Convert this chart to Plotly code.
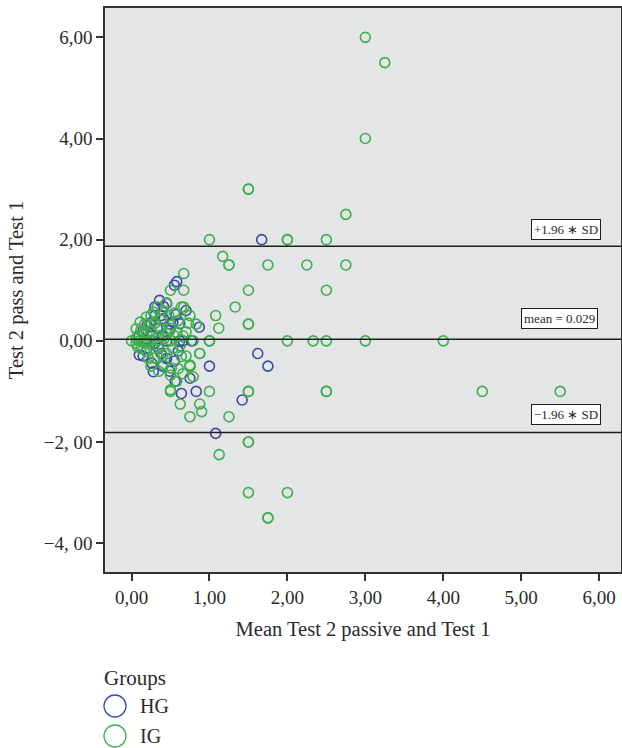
import plotly.graph_objects as go

# ---- data ----
hg_x = [1.67, 0.58, 0.55, 0.36, 0.45, 0.41, 0.30, 0.70, 0.41, 0.38, 0.53, 0.62, 0.49, 0.87, 0.49,
        0.30, 0.25, 0.20, 0.15, 0.33, 0.10, 0.27, 0.40, 0.62, 0.66, 0.77, 0.45, 0.20, 0.30, 0.10,
        0.38, 0.26, 0.28, 0.49, 0.56, 0.75, 0.64, 0.83, 1.00, 0.40, 0.15, 0.20, 0.45, 0.55, 0.35,
        0.60, 1.62, 1.75, 1.42, 1.08, 0.57]
hg_y = [2.00, 1.17, 1.10, 0.80, 0.74, 0.68, 0.67, 0.60, 0.44, 0.50, 0.37, 0.34, 0.33, 0.27, 0.21,
        0.50, 0.35, 0.30, 0.20, 0.25, 0.10, 0.10, 0.10, 0.00, 0.00, 0.00, 0.00, 0.00, -0.05, -0.28,
        -0.25, -0.44, -0.61, -0.60, -0.80, -0.74, -1.04, -1.00, -0.50, -0.50, -0.30, -0.15, -0.35, -0.40, -0.15,
        -0.20, -0.25, -0.50, -1.17, -1.83, 0.52]

ig_x = [3.00, 3.25, 3.00, 1.50, 1.50, 2.75, 1.00, 2.00, 2.00, 2.50, 1.17, 1.25, 1.25, 1.75, 2.25,
        2.75, 0.67, 0.50, 0.67, 1.50, 2.50, 0.67, 0.64, 0.75, 0.83, 1.08, 1.12, 1.33, 1.50, 1.50,
        1.00, 1.00, 2.00, 2.33, 2.50, 3.00, 4.00, 0.79, 0.875, 0.875, 0.75, 0.75, 0.79, 1.00, 1.50,
        1.50, 2.50, 2.50, 4.50, 5.50, 0.875, 0.90, 0.75, 1.25, 0.625, 0.50, 0.50, 0.58, 1.50, 1.50,
        1.125, 1.50, 2.00, 1.75, 1.75,
        0.00, 0.06, 0.06, 0.06, 0.11, 0.19, 0.28, 0.25, 0.24, 0.15, 0.36, 0.70, 0.58, 0.50, 0.38,
        0.45, 0.33, 0.12, 0.20, 0.30, 0.17, 0.10, 0.15, 0.25, 0.33, 0.42, 0.50, 0.55, 0.53, 0.64,
        0.41, 0.51, 0.30, 0.19, 0.34, 0.75, 0.25, 0.12, 0.08, 0.22, 0.45, 0.60, 0.50, 0.35, 0.40,
        0.28, 0.18, 0.62, 0.70, 0.66, 0.48, 0.55, 0.40, 0.25, 0.35, 0.45, 0.60, 0.66, 0.73, 0.08]
ig_y = [6.00, 5.50, 4.00, 3.00, 3.00, 2.50, 2.00, 2.00, 2.00, 2.00, 1.67, 1.50, 1.50, 1.50, 1.50,
        1.50, 1.33, 1.00, 1.00, 1.00, 1.00, 0.67, 0.67, 0.50, 0.33, 0.50, 0.25, 0.67, 0.33, 0.33,
        0.00, 0.00, 0.00, 0.00, 0.00, 0.00, 0.00, 0.00, -0.25, -0.25, -0.50, -0.50, -0.71, -1.00, -1.00,
        -1.00, -1.00, -1.00, -1.00, -1.00, -1.25, -1.40, -1.50, -1.50, -1.25, -0.97, -1.00, -0.80, -2.00, -2.00,
        -2.25, -3.00, -3.00, -3.50, -3.50,
        0.00, 0.05, -0.05, 0.24, 0.37, 0.47, 0.57, 0.50, 0.31, 0.14, 0.24, 0.18, 0.17, 0.25, 0.41,
        0.75, 0.67, 0.20, 0.15, 0.35, 0.33, 0.00, 0.00, 0.00, 0.00, 0.05, 0.00, 0.10, -0.15, -0.31,
        -0.48, -0.54, -0.34, -0.21, -0.11, -0.48, -0.50, -0.15, -0.12, -0.35, -0.25, -0.55, -0.68, -0.60, -0.30,
        -0.15, -0.05, -0.10, -0.30, -0.65, 0.50, 0.55, 0.60, 0.20, 0.10, 0.15, 0.40, 0.10, 0.35, 0.10]

mean_diff = 0.029
sd_diff = 0.94
upper = mean_diff + 1.96 * sd_diff
lower = mean_diff - 1.96 * sd_diff

x_ticks = [0, 1, 2, 3, 4, 5, 6]
x_labels = ["0,00", "1,00", "2,00", "3,00", "4,00", "5,00", "6,00"]
y_ticks = [6, 4, 2, 0, -2, -4]
y_labels = ["6,00", "4,00", "2,00", "0,00", "\u22122, 00", "\u22124, 00"]

group_names = ["HG", "IG"]

BLUE = "#3b4aa8"
GREEN = "#3db04b"
FONT = "Liberation Serif"
TXT = "#2a2a2a"
colors = [BLUE, GREEN]

# plot area geometry in pixels
W, H = 622, 748
L, R, T, B = 105, 1, 8, 176
PW, PH = W - L - R, H - T - B


def px_to_paper_x(px):
    return (px - L) / PW


def px_to_paper_y(py):
    return (H - B - py) / PH


fig = go.Figure()
for name, xs, ys, c in [("HG", hg_x, hg_y, BLUE), ("IG", ig_x, ig_y, GREEN)]:
    fig.add_trace(go.Scatter(x=xs, y=ys, mode="markers", name=name, showlegend=False,
                             marker=dict(symbol="circle-open", size=10, color=c,
                                         line=dict(width=1.6, color=c))))

for v in [upper, mean_diff, lower]:
    fig.add_shape(type="line", xref="paper", x0=0, x1=1, yref="y", y0=v, y1=v,
                  line=dict(color="#1e1e1e", width=1.5))

labels = [(upper, "+1.96 \u2217 SD", 566, 17), (mean_diff, "mean = 0.029", 559, 21),
          (lower, "\u22121.96 \u2217 SD", 566, 18)]
for v, t, xpx, ysh in labels:
    fig.add_annotation(x=px_to_paper_x(xpx), xref="paper", y=v, yref="y", text=t, showarrow=False,
                       xanchor="center", yanchor="middle",
                       yshift=ysh, bgcolor="white", bordercolor="#1e1e1e", borderwidth=1,
                       borderpad=2, font=dict(family=FONT, size=13, color=TXT))

# legend drawn below the chart
fig.add_annotation(x=px_to_paper_x(102), y=px_to_paper_y(678), xref="paper", yref="paper",
                   text="Groups", showarrow=False, xanchor="left", yanchor="middle",
                   font=dict(family=FONT, size=21, color=TXT))
for i, (g, c) in enumerate(zip(group_names, colors)):
    cy = 706 + i * 30
    fig.add_shape(type="circle", xref="paper", yref="paper",
                  xsizemode="pixel", ysizemode="pixel",
                  xanchor=px_to_paper_x(115), yanchor=px_to_paper_y(cy),
                  x0=-11, x1=11, y0=-11, y1=11, line=dict(color=c, width=1.3))
    fig.add_annotation(x=px_to_paper_x(138), y=px_to_paper_y(cy), xref="paper", yref="paper",
                       text=g, showarrow=False, xanchor="left", yanchor="middle",
                       font=dict(family=FONT, size=20, color=TXT))

fig.update_layout(
    width=W, height=H,
    margin=dict(l=L, r=R, t=T, b=B),
    paper_bgcolor="white", plot_bgcolor="#e4e5e7",
    font=dict(family=FONT, size=19, color=TXT),
    showlegend=False,
    xaxis=dict(range=[-0.34, 6.28], tickvals=x_ticks, ticktext=x_labels, automargin=False,
               showgrid=False, zeroline=False, ticks="outside", ticklen=7,
               tickcolor="#333", tickwidth=1.5, showline=True, mirror=True,
               linecolor="#333", linewidth=1.5, tickfont=dict(family=FONT, size=19, color=TXT),
               title=dict(text="Mean Test 2 passive and Test 1",
                          font=dict(family=FONT, size=20.5, color=TXT))),
    yaxis=dict(range=[-4.57, 6.58], tickvals=y_ticks, ticktext=y_labels, automargin=False,
               showgrid=False, zeroline=False, ticks="outside", ticklen=7,
               tickcolor="#333", tickwidth=1.5, showline=True, mirror=True,
               linecolor="#333", linewidth=1.5, tickfont=dict(family=FONT, size=19, color=TXT),
               title=dict(text="Test 2 pass and Test 1",
                          font=dict(family=FONT, size=20.5, color=TXT))),
)

fig.write_html("out.html", config={"displayModeBar": False},
               post_script="document.body.style.margin='0';document.body.style.overflow='hidden';")
